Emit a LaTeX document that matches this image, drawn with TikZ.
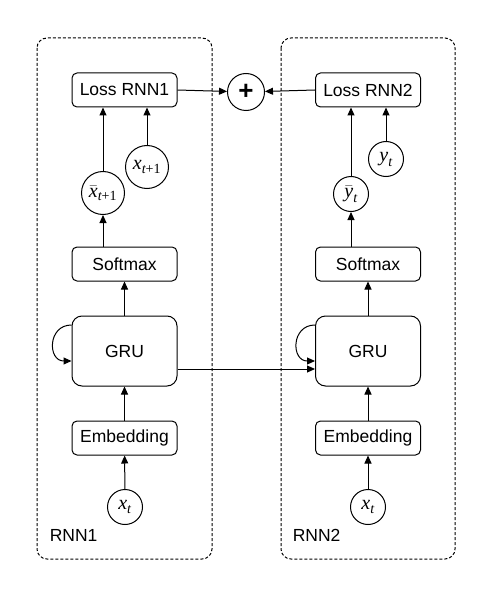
\documentclass[tikz,border=0pt]{standalone}
\usepackage[no-math]{fontspec}
\usepackage{amsmath}
\newfontfamily\labelfont{Liberation Sans}
\newfontfamily\varfont{Liberation Serif}
\usetikzlibrary{arrows.meta}

\begin{document}
\begin{tikzpicture}[x=1pt, y=-1pt, line width=1pt, font=\labelfont\fontsize{17.5}{20}\selectfont,
        block/.style={draw, rounded corners=5pt, minimum width=105pt, minimum height=34pt, inner sep=0pt},
        grubox/.style={block, rounded corners=10pt, minimum height=70pt},
        var/.style={draw, circle, minimum size=35pt, inner sep=0pt, font=\varfont\fontsize{20}{22}\selectfont},
        bigvar/.style={var, minimum size=43pt},
        group/.style={draw, dash pattern=on 3pt off 2pt, rounded corners=10pt},
        arr/.style={-{Triangle[length=8pt, width=7pt]}}]
        \useasboundingbox (0, 0) rectangle (498, 596);

        % the two networks
        \draw[group] (37, 38) rectangle (212, 559);
        \draw[group] (281, 38) rectangle (455, 559);
        \node[anchor=west] (name1) at (46, 535) {RNN1};
        \node[anchor=west] (name2) at (289, 535) {RNN2};

        % RNN1
        \node[block] (loss1) at (124.5, 90) {Loss RNN1};
        \node[bigvar] (xbar) at (103, 193) {$\bar{\textit{x}}_{\textit{t}\text{+1}}$};
        \node[bigvar] (xnext) at (147, 167) {$\textit{x}_{\textit{t}\text{+1}}$};
        \node[block] (soft1) at (124.5, 264) {Softmax};
        \node[grubox] (gru1) at (124.5, 351) {GRU};
        \node[block] (emb1) at (124.5, 438) {Embedding};
        \node[var] (xin1) at (125, 507) {$\textit{x}_{\textit{t}}$};

        % RNN2
        \node[block] (loss2) at (368, 90) {Loss RNN2};
        \node[var] (ybar) at (351, 194) {$\bar{\textit{y}}_{\textit{t}}$};
        \node[var] (ytrue) at (386, 159) {$\textit{y}_{\textit{t}}$};
        \node[block] (soft2) at (368, 264) {Softmax};
        \node[grubox] (gru2) at (368, 351) {GRU};
        \node[block] (emb2) at (368, 438) {Embedding};
        \node[var] (xin2) at (368, 507) {$\textit{x}_{\textit{t}}$};

        \node[var, minimum size=37pt, font=\labelfont\fontsize{26}{26}\selectfont\bfseries] (plus) at (246, 92) {+};

        \draw[arr] (xin1) -- (emb1);
        \draw[arr] (emb1) -- (gru1);
        \draw[arr] (gru1) -- (soft1);
        \draw[arr] (soft1.north -| xbar) -- (xbar);
        \draw[arr] (xbar) -- (xbar |- loss1.south);
        \draw[arr] (xnext) -- (xnext |- loss1.south);
        \draw[arr] ([yshift=26pt]gru1.west) to[out=180, in=180, distance=24pt] ([yshift=-10pt]gru1.west);

        \draw[arr] (xin2) -- (emb2);
        \draw[arr] (emb2) -- (gru2);
        \draw[arr] (gru2) -- (soft2);
        \draw[arr] (soft2.north -| ybar) -- (ybar);
        \draw[arr] (ybar) -- (ybar |- loss2.south);
        \draw[arr] (ytrue) -- (ytrue |- loss2.south);
        \draw[arr] ([yshift=26pt]gru2.west) to[out=180, in=180, distance=24pt] ([yshift=-10pt]gru2.west);

        \draw[arr] ([yshift=-18pt]gru1.east) -- ([yshift=-18pt]gru2.west);
        \draw[arr] (loss1.east) -- (plus);
        \draw[arr] (loss2.west) -- (plus);
    \end{tikzpicture}
\end{document}
